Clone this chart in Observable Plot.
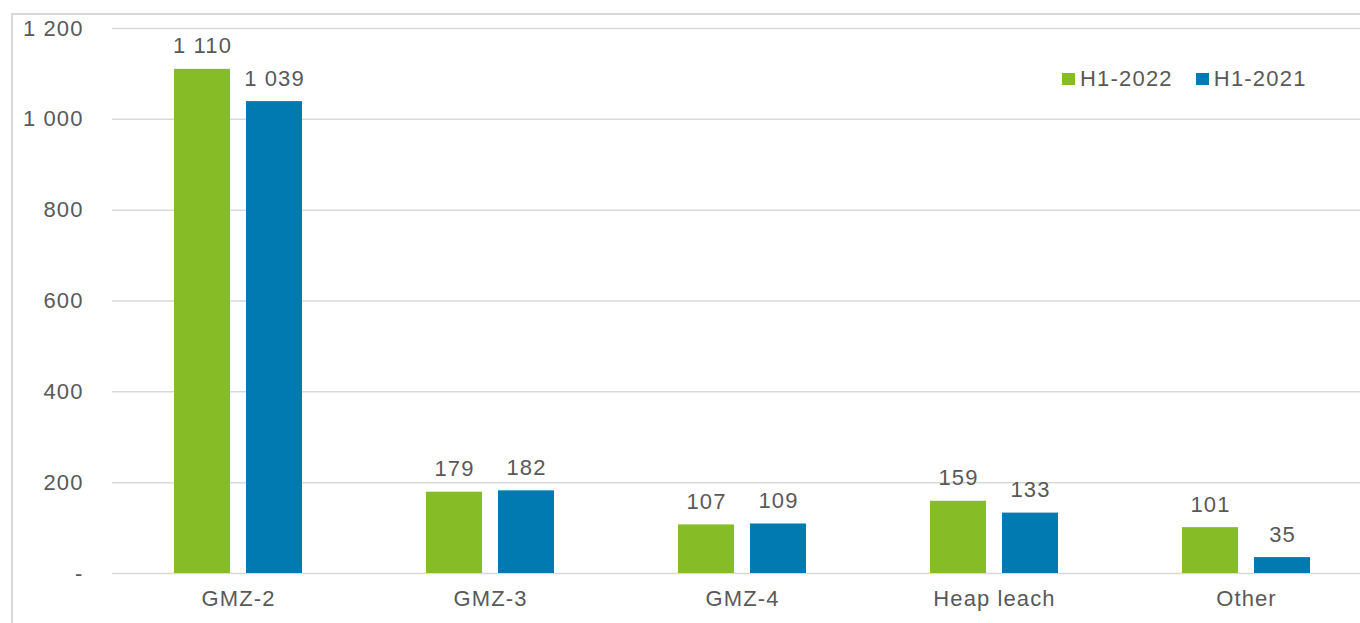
<!DOCTYPE html>
<html>
<head>
<meta charset="utf-8">
<script src="https://cdn.jsdelivr.net/npm/d3@7"></script>
<script src="https://cdn.jsdelivr.net/npm/@observablehq/plot@0.6"></script>
<style>
  html, body { margin: 0; padding: 0; background: #fff; }
  #wrap { position: relative; width: 1360px; height: 623px; overflow: hidden; font-family: "Liberation Sans", Arial, sans-serif; }
  #frame { position: absolute; left: 11px; top: 13px; width: 1400px; height: 700px; border: 2px solid #d9d9d9; box-sizing: border-box; pointer-events: none; }
  #legend { position: absolute; left: 1062px; top: 66px; display: flex; align-items: center; font-size: 22px; letter-spacing: 1.2px; color: #595959; }
  #legend .item { display: flex; align-items: center; margin-right: 23px; }
  #legend .sw { width: 13px; height: 12px; margin-right: 5px; }
  svg { letter-spacing: 1.1px; }
</style>
</head>
<body>
<div id="wrap"><div id="frame"></div><div id="legend"></div></div>
<script>
const categories = ["GMZ-2", "GMZ-3", "GMZ-4", "Heap leach", "Other"];
const seriesNames = ["H1-2022", "H1-2021"];
const valuesH12022 = [1110, 179, 107, 159, 101];
const valuesH12021 = [1039, 182, 109, 133, 35];
const colors = ["#86bc25", "#007ab0"];
const yTicks = [0, 200, 400, 600, 800, 1000, 1200];

const fmt = d3.formatLocale({decimal: ".", thousands: " ", grouping: [3], currency: ["", ""]}).format(",");
const tickFmt = d => d === 0 ? "-" : fmt(d);

const data = [];
categories.forEach((c, i) => {
  data.push({cat: c, series: seriesNames[0], value: valuesH12022[i]});
  data.push({cat: c, series: seriesNames[1], value: valuesH12021[i]});
});

const chart = Plot.plot({
  width: 1372,
  height: 623,
  marginLeft: 112,
  marginRight: 0,
  marginTop: 28,
  marginBottom: 50,
  style: {fontFamily: "'Liberation Sans', Arial, sans-serif", fontSize: "22px", color: "#595959", background: "transparent", maxWidth: "none"},
  fx: {domain: categories, padding: 0, label: null, tickSize: 0, tickPadding: 17, axis: "bottom"},
  x: {domain: seriesNames, paddingInner: 0.222, paddingOuter: 0.861, axis: null},
  y: {domain: [0, 1200], ticks: yTicks, tickFormat: tickFmt, tickSize: 0, tickPadding: 29, label: null},
  color: {domain: seriesNames, range: colors},
  marks: [
    Plot.ruleY(yTicks, {stroke: "#d9d9d9", strokeWidth: 1.5}),
    Plot.barY(data, {fx: "cat", x: "series", y: "value", fill: "series"}),
    Plot.text(data, {fx: "cat", x: "series", y: "value", text: d => fmt(d.value), lineAnchor: "bottom", dy: -16, fill: "#595959", fontSize: 22})
  ]
});
document.getElementById("wrap").prepend(chart);

const legend = document.getElementById("legend");
seriesNames.forEach((s, i) => {
  const item = document.createElement("div");
  item.className = "item";
  const sw = document.createElement("div");
  sw.className = "sw";
  sw.style.background = colors[i];
  const t = document.createElement("span");
  t.textContent = s;
  item.append(sw, t);
  legend.append(item);
});
</script>
</body>
</html>
